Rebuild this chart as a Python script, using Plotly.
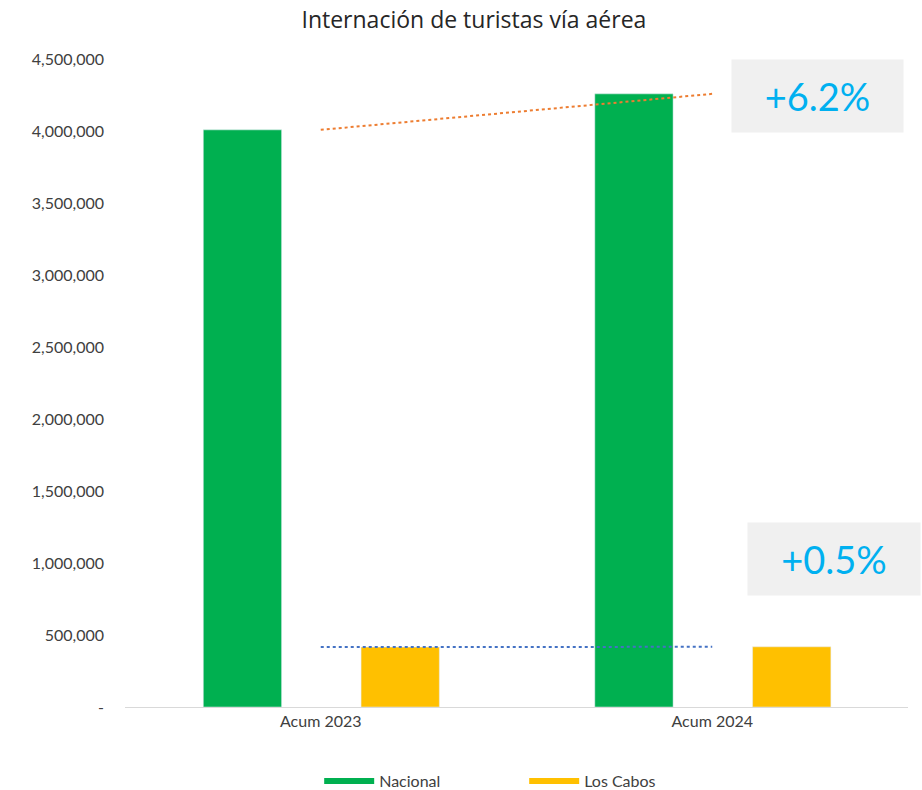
import plotly.graph_objects as go

categories = ["Acum 2023", "Acum 2024"]
nacional = [4008000, 4258000]
los_cabos = [416000, 418000]
y_tickvals = [0, 500000, 1000000, 1500000, 2000000, 2500000, 3000000, 3500000, 4000000, 4500000]
y_ticktext = ["-", "500,000", "1,000,000", "1,500,000", "2,000,000", "2,500,000",
              "3,000,000", "3,500,000", "4,000,000", "4,500,000"]
labels_pct = ["+6.2%", "+0.5%"]

GREEN = "#00B050"
YELLOW = "#FFC000"
ORANGE = "#ED7D31"
BLUE = "#4472C4"
FONT = "Lato"

FIG_H = 830

fig = go.Figure()
fig.add_trace(go.Bar(x=categories, y=nacional, name="Nacional", marker_color=GREEN,
                     width=0.2, offset=-0.3, showlegend=False))
fig.add_trace(go.Bar(x=categories, y=los_cabos, name="Los Cabos", marker_color=YELLOW,
                     width=0.2, offset=0.103, showlegend=False))
fig.add_trace(go.Scatter(x=categories, y=nacional, mode="lines",
                         line=dict(color=ORANGE, width=2, dash="dot"), showlegend=False))
fig.add_trace(go.Scatter(x=categories, y=los_cabos, mode="lines",
                         line=dict(color=BLUE, width=2, dash="dot"), showlegend=False))
# legend entries
fig.add_trace(go.Scatter(x=[None], y=[None], mode="lines", name="Nacional",
                         line=dict(color=GREEN, width=6)))
fig.add_trace(go.Scatter(x=[None], y=[None], mode="lines", name="Los Cabos",
                         line=dict(color=YELLOW, width=6)))

fig.update_layout(
    width=922, height=FIG_H,
    margin=dict(l=125, r=14, t=59, b=FIG_H - 707),
    paper_bgcolor="white", plot_bgcolor="white",
    barmode="overlay",
    title=dict(text="Internación de turistas vía aérea", x=0.514, xanchor="center",
               y=1 - 20 / FIG_H, yanchor="middle",
               font=dict(family="Open Sans", size=23, color="#262626")),
    font=dict(family=FONT, color="#404040", size=16),
    xaxis=dict(type="category", range=[-0.5, 1.5], showgrid=False,
               showline=True, linecolor="#D9D9D9", linewidth=1,
               ticks="", tickfont=dict(size=16, color="#404040"), zeroline=False),
    yaxis=dict(range=[0, 4500000], tickvals=y_tickvals, ticktext=y_ticktext,
               showgrid=False, zeroline=False, showline=False,
               ticklabelstandoff=20, tickfont=dict(size=16, color="#404040")),
    legend=dict(orientation="h", x=0.248, xanchor="left", y=-0.1142, yanchor="middle",
                itemwidth=50, font=dict(size=16, color="#404040"),
                tracegroupgap=0, entrywidth=140),
    showlegend=True,
)

fig.add_annotation(xref="paper", yref="paper", x=0.8844, y=0.943, text=labels_pct[0],
                   xanchor="center", yanchor="middle",
                   showarrow=False, width=171, height=72, bgcolor="#F0F0F0",
                   borderpad=0, align="center", valign="middle",
                   font=dict(family=FONT, size=38, color="#00B0F0"))
fig.add_annotation(xref="paper", yref="paper", x=0.9055, y=0.228, text=labels_pct[1],
                   xanchor="center", yanchor="middle",
                   showarrow=False, width=172, height=72, bgcolor="#F0F0F0",
                   borderpad=0, align="center", valign="middle",
                   font=dict(family=FONT, size=38, color="#00B0F0"))

fig.write_html("out.html", config={"displayModeBar": False},
               post_script="document.body.style.margin='0';")
